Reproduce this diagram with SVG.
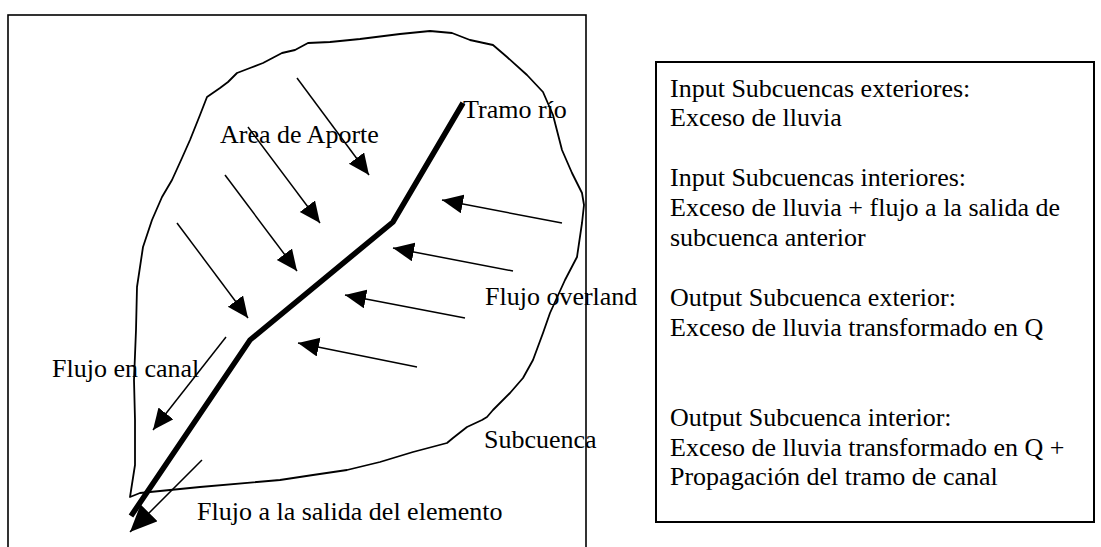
<svg xmlns="http://www.w3.org/2000/svg" width="1101" height="547" viewBox="0 0 1101 547">
<defs>
<style>
.t{font-family:"Liberation Serif","Times New Roman",serif;font-size:26px;fill:#000}
.ln{stroke:#000;stroke-width:1.5;fill:none}
.frame{fill:none;stroke:#000;stroke-width:1.6}
</style>
<marker id="ah" markerUnits="userSpaceOnUse" markerWidth="22" markerHeight="20" refX="21" refY="9.5" orient="auto">
<path d="M0,0 L21,9.5 L0,19 z" fill="#000"/>
</marker>
<marker id="ahb" markerUnits="userSpaceOnUse" markerWidth="28" markerHeight="25" refX="27" refY="12" orient="auto">
<path d="M0,0 L27,12 L0,24 z" fill="#000"/>
</marker>
</defs>
<rect width="1101" height="547" fill="#fff"/>
<g id="marco">
<rect class="frame" x="8" y="15" width="578" height="545"/>
</g>
<g id="subcuenca">
<path d="M130,497 L135,465 L135,420 L134,380 L136,330 L137,287 L143,247 L152,220 L162,197 L172,180 L182,158 L190,140 L200,115 L207,97 L220,88 L228,82 L237,73 L250,68 L263,63 L282,53 L295,50 L308,43 L330,42 L360,39 L400,34 L430,31 L452,33 L470,40 L493,45 L507,57 L527,75 L543,92 L553,115 L562,150 L572,173 L582,193 L584,205 L582,223 L577,257 L565,280 L550,313 L543,333 L533,360 L523,378 L510,393 L493,410 L487,417 L482,420 L467,427 L453,438 L447,443 L413,452 L380,462 L347,470 L313,475 L280,480 L200,487 L140,493 Z" fill="none" stroke="#000" stroke-width="1.8" stroke-linejoin="round"/>
<text class="t" x="484" y="448">Subcuenca</text>
</g>
<g id="area-aporte">
<text class="t" x="220" y="143">Area de Aporte</text>
</g>
<g id="tramo-rio">
<polyline points="463,103 393,222 250,340 131,516" fill="none" stroke="#000" stroke-width="5.5"/>
<text class="t" x="463" y="118">Tramo río</text>
</g>
<g id="flujo-overland">
<text class="t" x="485" y="305">Flujo overland</text>
</g>
<g id="flujo-canal">
<text class="t" x="52" y="377">Flujo en canal</text>
</g>
<g id="flujo-salida">
<text class="t" x="197" y="520">Flujo a la salida del elemento</text>
</g>
<g id="connectors">
<line class="ln" x1="297" y1="78" x2="369" y2="175" marker-end="url(#ah)"/>
<line class="ln" x1="248" y1="127" x2="320" y2="223" marker-end="url(#ah)"/>
<line class="ln" x1="225" y1="175" x2="297" y2="271" marker-end="url(#ah)"/>
<line class="ln" x1="177" y1="223" x2="248" y2="318" marker-end="url(#ah)"/>
<line class="ln" x1="226" y1="337" x2="153" y2="430" marker-end="url(#ah)"/>
<line class="ln" x1="202" y1="460" x2="130" y2="532" stroke-width="2.4" marker-end="url(#ahb)"/>
<line class="ln" x1="562" y1="223" x2="442" y2="200" marker-end="url(#ah)"/>
<line class="ln" x1="513" y1="271" x2="393" y2="248" marker-end="url(#ah)"/>
<line class="ln" x1="465" y1="318" x2="345" y2="295" marker-end="url(#ah)"/>
<line class="ln" x1="417" y1="367" x2="298" y2="343" marker-end="url(#ah)"/>
</g>
<g id="leyenda">
<rect x="656" y="62" width="438" height="460" fill="none" stroke="#000" stroke-width="2"/>
<text class="t" x="670" y="97">Input Subcuencas exteriores:</text>
<text class="t" x="670" y="126">Exceso de lluvia</text>
<text class="t" x="670" y="186">Input Subcuencas interiores:</text>
<text class="t" x="670" y="216">Exceso de lluvia + flujo a la salida de</text>
<text class="t" x="670" y="246">subcuenca anterior</text>
<text class="t" x="670" y="306">Output Subcuenca exterior:</text>
<text class="t" x="670" y="336">Exceso de lluvia transformado en Q</text>
<text class="t" x="670" y="426">Output Subcuenca interior:</text>
<text class="t" x="670" y="456">Exceso de lluvia transformado en Q +</text>
<text class="t" x="670" y="485">Propagación del tramo de canal</text>
</g>
</svg>
